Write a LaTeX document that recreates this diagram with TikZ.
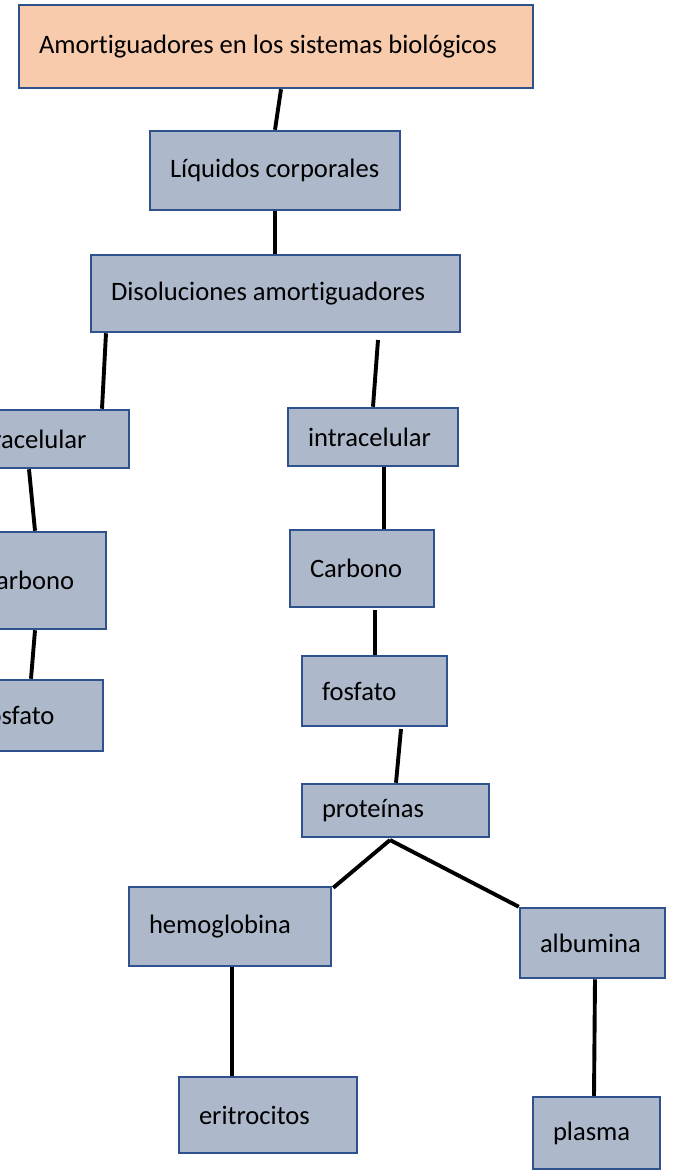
\documentclass[tikz,border=0pt]{standalone}
\usepackage{fontspec}
\setmainfont{Carlito}[Ligatures={NoCommon}]
\usetikzlibrary{calc}
\definecolor{boxfill}{HTML}{ADB9CA}
\definecolor{topfill}{HTML}{F8CBAD}
\definecolor{boxline}{HTML}{2F528F}
\tikzset{
  box/.style={draw=boxline, fill=boxfill, line width=2.5pt, inner xsep=20pt, inner ysep=0pt, align=flush left, font=\fontsize{26.6}{30}\selectfont},
  link/.style={line width=3.9pt, black}
}
\newcommand{\bx}[7][boxfill]{%
  \pgfmathsetmacro{\cx}{(#3+#5)/2}\pgfmathsetmacro{\cy}{(#4+#6)/2}%
  \pgfmathsetmacro{\ww}{#5-#3}\pgfmathsetmacro{\hh}{#6-#4}\pgfmathsetmacro{\tw}{#5-#3-40}%
  \node[box, fill=#1, minimum width=\ww pt, minimum height=\hh pt, text width=\tw pt] (#2) at (\cx,\cy) {\mbox{#7}};}
\begin{document}
\begin{tikzpicture}[x=1pt,y=-1pt]
\useasboundingbox (0,0) rectangle (692,1175);
\bx[topfill]{top}{19}{5}{533}{88}{Amortiguadores en los sistemas biológicos}
\bx{liq}{150}{131}{400}{210}{Líquidos corporales}
\bx{dis}{91}{255}{460}{332}{Disoluciones amortiguadores}
\bx{ext}{-61}{410}{129}{468}{extracelular}
\bx{carL}{-38}{532}{106}{629}{Carbono}
\bx{fosL}{-40}{680}{103}{751}{fosfato}
\bx{int}{288}{408}{458}{466}{intracelular}
\bx{carR}{290}{530}{434}{607}{Carbono}
\bx{fosR}{302}{656}{447}{726}{fosfato}
\bx{prot}{302}{784}{489}{837}{proteínas}
\bx{hemo}{129}{887}{331}{966}{hemoglobina}
\bx{alb}{520}{908}{665}{978}{albumina}
\bx{eri}{179}{1077}{357}{1153}{eritrocitos}
\bx{pla}{533}{1097}{660}{1169}{plasma}
\coordinate (dgap) at (378,340);
\coordinate (cgap) at (375,610);
\coordinate (fgap) at (401,729);
\coordinate (pfork) at (390,840);
\draw[link] (281,0 |- top.south) -- (275,0 |- liq.north);
\draw[link] (275,0 |- liq.south) -- (275,0 |- dis.north);
\draw[link] (106,0 |- dis.south) -- (102,0 |- ext.north);
\draw[link] (dgap) -- (373,0 |- int.north);
\draw[link] (29,0 |- ext.south) -- (35,0 |- carL.north);
\draw[link] (35,0 |- carL.south) -- (31,0 |- fosL.north);
\draw[link] (384,0 |- int.south) -- (384,0 |- carR.north);
\draw[link] (cgap) -- (375,0 |- fosR.north);
\draw[link] (fgap) -- (396,0 |- prot.north);
\draw[link] (pfork) -- ([xshift=1pt,yshift=-2pt]hemo.north east);
\draw[link] (pfork) -- (alb.north west);
\draw[link] (232,0 |- hemo.south) -- (232,0 |- eri.north);
\draw[link] (595,0 |- alb.south) -- (594,0 |- pla.north);
\end{tikzpicture}
\end{document}
